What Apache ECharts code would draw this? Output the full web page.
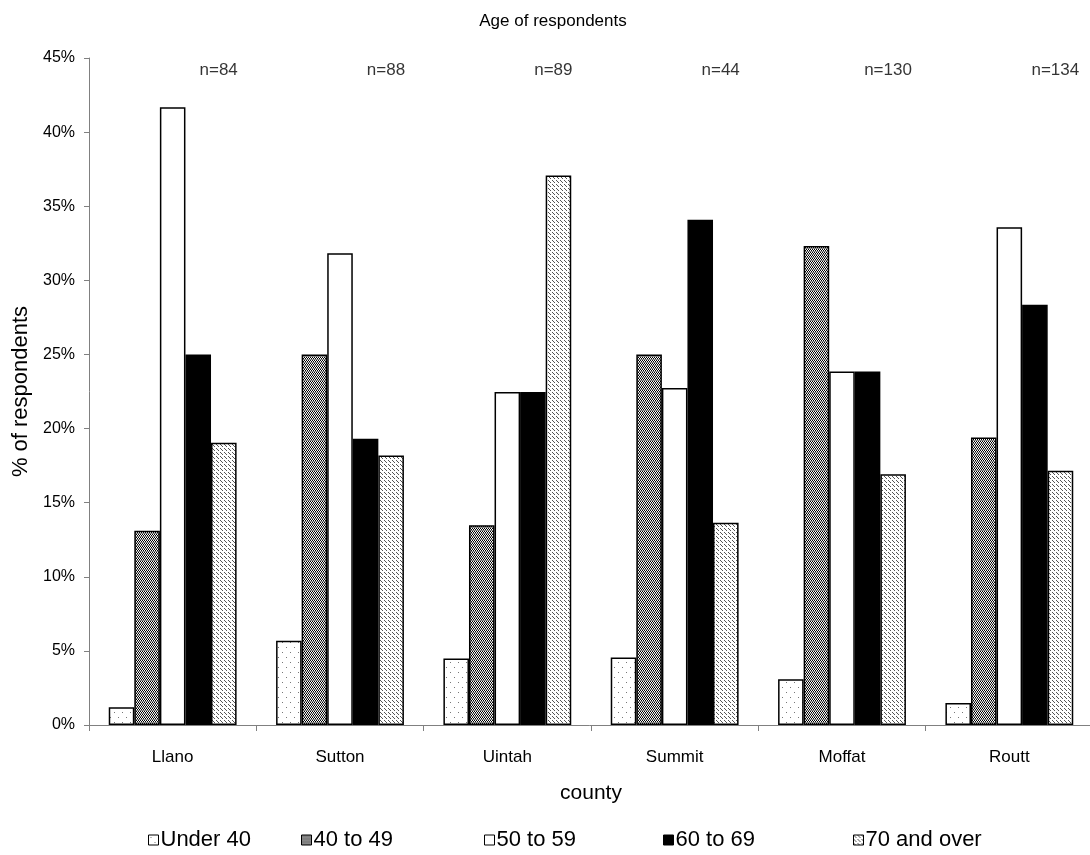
<!DOCTYPE html>
<html><head><meta charset="utf-8">
<script src="https://cdn.jsdelivr.net/npm/echarts@6/dist/echarts.min.js"></script>
<style>html,body{margin:0;padding:0;background:#fff}#c{width:1090px;height:855px}</style>
</head><body><div id="c"></div>
<script>
const categories = ['Llano','Sutton','Uintah','Summit','Moffat','Routt'];
const seriesNames = ['Under 40','40 to 49','50 to 59','60 to 69','70 and over'];
const under40 = [1.19, 5.68, 4.49, 4.55, 3.08, 1.49];
const age40to49 = [13.10, 25.00, 13.48, 25.00, 32.31, 19.40];
const age50to59 = [41.67, 31.82, 22.47, 22.73, 23.85, 33.58];
const age60to69 = [25.00, 19.32, 22.47, 34.09, 23.85, 28.36];
const age70plus = [19.05, 18.18, 37.08, 13.64, 16.92, 17.16];
const nLabels = ['n=84','n=88','n=89','n=44','n=130','n=134'];
const nLabelLevel = 44.2;
const yTicks = [0,5,10,15,20,25,30,35,40,45];

const FONT = "'Liberation Sans', Arial, sans-serif";
function pattern(w,h,draw){const c=document.createElement('canvas');c.width=w;c.height=h;const g=c.getContext('2d');g.fillStyle='#fff';g.fillRect(0,0,w,h);draw(g);return {image:c,repeat:'repeat'};}
const dots = pattern(8,10,g=>{g.fillStyle='#777';g.fillRect(2,2,1,1);g.fillRect(6,7,1,1);});
const checker = pattern(2,3,g=>{g.fillStyle='#000';g.fillRect(0,0,1,1);g.fillRect(1,1,1,1);g.fillStyle='#888';g.fillRect(0,2,2,1);});
const hatch = pattern(4,4,g=>{g.fillStyle='#555';g.fillRect(0,0,1,1);g.fillRect(1,1,1,1);g.fillRect(2,2,1,1);});
const fills = [dots, checker, '#ffffff', '#000000', hatch];
const data = [under40, age40to49, age50to59, age60to69, age70plus];
const legendLeft = [148, 301, 484, 663, 853];

const chart = echarts.init(document.getElementById('c'));
const series = seriesNames.map((n,i)=>({
  name:n, type:'bar', data:data[i], barGap:'0%', barCategoryGap:'23.6%',
  itemStyle:{color:fills[i], borderColor:'#000', borderWidth:1.5},
  emphasis:{disabled:true}
}));
series.push({
  type:'scatter', name:'n', data:nLabels.map(()=>nLabelLevel), symbolSize:0, silent:true,
  label:{show:true, position:'inside', offset:[46,0], fontSize:17, color:'#000', fontFamily:FONT,
    formatter:p=>nLabels[p.dataIndex]}
});
chart.setOption({
  animation:false,
  textStyle:{fontFamily:FONT},
  title:{text:'Age of respondents', left:548, top:8, textAlign:'center',
    textStyle:{fontSize:17, fontWeight:'normal', color:'#000', fontFamily:FONT}},
  legend:seriesNames.map((n,i)=>({data:[n], top:829, left:legendLeft[i], padding:0, itemWidth:10, itemHeight:10,
    icon:'rect', itemStyle:{borderWidth:1, borderColor:'#000'},
    textStyle:{fontSize:22, color:'#000', fontFamily:FONT, padding:[0,0,0,-3]}})),
  grid:{left:89, right:-3, top:58, bottom:130, outerBoundsMode:'none', containLabel:false},
  xAxis:{type:'category', data:categories, name:'county', nameLocation:'middle', nameGap:58,
    nameTextStyle:{fontSize:21, color:'#000', fontFamily:FONT},
    axisLine:{lineStyle:{color:'#808080', width:1}}, axisTick:{show:true, length:6, lineStyle:{color:'#808080'}},
    axisLabel:{fontSize:17, color:'#000', margin:24, fontFamily:FONT}},
  yAxis:{type:'value', min:0, max:45, interval:5, name:'% of respondents', nameLocation:'middle', nameGap:52,
    nameTextStyle:{fontSize:22, color:'#000', fontFamily:FONT},
    axisLine:{show:true, lineStyle:{color:'#808080'}}, axisTick:{show:true, length:5, lineStyle:{color:'#808080'}},
    splitLine:{show:false},
    axisLabel:{fontSize:16, color:'#000', margin:14, fontFamily:FONT, formatter:v=>yTicks.includes(v)?v+'%':''}},
  series:series
});
</script></body></html>
